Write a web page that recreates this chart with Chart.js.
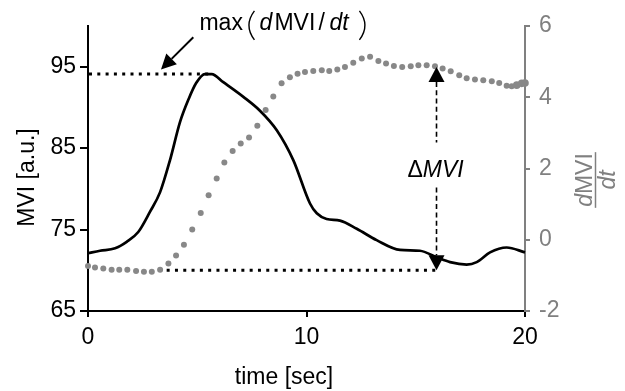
<!DOCTYPE html>
<html>
<head>
<meta charset="utf-8">
<script src="https://cdn.jsdelivr.net/npm/chart.js@4"></script>
<style>
  html, body { margin: 0; padding: 0; background: #fff; }
  #wrap { width: 625px; height: 391px; position: relative; }
</style>
</head>
<body>
<div id="wrap"><canvas id="c" width="625" height="391"></canvas></div>
<script>
// ---- data ----
const lineTime = [0, 0.55, 1.24, 1.77, 2.30, 2.84, 3.30, 3.75, 4.21, 4.60, 4.95, 5.35, 5.66, 6.19, 7.11, 7.87, 8.64, 9.40, 10.16, 10.47, 10.92, 11.53, 12.30, 13.21, 14.28, 15.19, 15.96, 16.57, 17.33, 17.79, 18.40, 19.16, 20];
const mviValues = [72.1, 72.4, 72.7, 73.5, 74.7, 77.2, 79.6, 83.5, 88.2, 91.0, 93.0, 94.1, 94.1, 93.1, 91.3, 89.6, 87.2, 83.5, 78.2, 77.0, 76.3, 76.1, 75.1, 73.7, 72.5, 72.4, 71.6, 71.0, 70.7, 71.0, 72.2, 72.8, 72.2];

const dotTime = [0, 0.32, 0.70, 1.08, 1.43, 1.80, 2.20, 2.56, 2.92, 3.30, 3.68, 4.03, 4.39, 4.77, 5.16, 5.52, 5.89, 6.24, 6.62, 6.99, 7.37, 7.75, 8.13, 8.48, 8.86, 9.24, 9.59, 9.93, 10.31, 10.70, 11.04, 11.41, 11.76, 12.14, 12.53, 12.91, 13.29, 13.64, 14.00, 14.38, 14.77, 15.12, 15.50, 15.88, 16.23, 16.60, 16.99, 17.33, 17.71, 18.09, 18.48, 18.82, 19.16, 19.39, 19.62, 19.85, 20.0];
const dmviValues = [-0.74, -0.78, -0.81, -0.84, -0.84, -0.84, -0.88, -0.90, -0.90, -0.84, -0.67, -0.44, -0.14, 0.29, 0.75, 1.25, 1.72, 2.17, 2.49, 2.70, 2.87, 3.20, 3.64, 4.02, 4.39, 4.56, 4.66, 4.71, 4.74, 4.76, 4.74, 4.78, 4.85, 4.97, 5.09, 5.14, 5.02, 4.95, 4.88, 4.85, 4.87, 4.90, 4.90, 4.87, 4.81, 4.73, 4.62, 4.53, 4.50, 4.48, 4.45, 4.40, 4.32, 4.31, 4.34, 4.39, 4.40];

const xTickValues = [0, 10, 20];
const leftTickValues = [65, 75, 85, 95];
const rightTickValues = [-2, 0, 2, 4, 6];

// annotation levels (data units)
const maxLevel = 94.1;      // left axis
const minLevel = 70.0;      // left axis
const maxEndTime = 5.66;
const minStartTime = 3.6;
const markTime = 15.95;
const markTopR = 4.85;      // right axis value of upper arrow tip

const FONT = "'Liberation Sans', Arial, sans-serif";
const GRAY = '#808080';
const DOT = '#888888';

const annot = {
  id: 'annot',
  afterDatasetsDraw(chart) {
    const ctx = chart.ctx;
    const sx = chart.scales.x, sy = chart.scales.y, sr = chart.scales.y2;
    const X = v => sx.getPixelForValue(v);
    const YL = v => sy.getPixelForValue(v);
    const YR = v => sr.getPixelForValue(v);
    ctx.save();

    // dotted horizontal lines
    ctx.strokeStyle = '#000';
    ctx.lineWidth = 3;
    ctx.lineCap = 'butt';
    ctx.setLineDash([3, 5.3]);
    ctx.beginPath();
    ctx.moveTo(X(0) + 1, YL(maxLevel));
    ctx.lineTo(X(maxEndTime), YL(maxLevel));
    ctx.stroke();
    ctx.beginPath();
    ctx.moveTo(X(minStartTime), YL(minLevel));
    ctx.lineTo(X(markTime) + 1, YL(minLevel));
    ctx.stroke();

    // vertical dashed arrow
    const mx = X(markTime);
    const topTip = YR(markTopR);
    const botTip = YL(minLevel);
    const textY = YL(82.5);
    ctx.setLineDash([5, 3.3]);
    ctx.lineWidth = 1.6;
    ctx.beginPath();
    ctx.moveTo(mx, topTip + 15);
    ctx.lineTo(mx, textY - 26);
    ctx.moveTo(mx, textY + 19);
    ctx.lineTo(mx, botTip - 15);
    ctx.stroke();
    ctx.setLineDash([]);
    ctx.fillStyle = '#000';
    ctx.beginPath();
    ctx.moveTo(mx, topTip); ctx.lineTo(mx - 8, topTip + 15); ctx.lineTo(mx + 8, topTip + 15); ctx.closePath();
    ctx.fill();
    ctx.beginPath();
    ctx.moveTo(mx, botTip); ctx.lineTo(mx - 8, botTip - 15); ctx.lineTo(mx + 8, botTip - 15); ctx.closePath();
    ctx.fill();

    // ΔMVI label
    ctx.textBaseline = 'alphabetic';
    ctx.textAlign = 'left';
    ctx.font = '23px ' + FONT;
    const wD = ctx.measureText('Δ').width;
    ctx.font = 'italic 23px ' + FONT;
    const wM = ctx.measureText('MVI').width;
    let tx = mx - 1 - (wD + wM) / 2;
    ctx.font = '23px ' + FONT;
    ctx.fillText('Δ', tx, textY + 8);
    ctx.font = 'italic 23px ' + FONT;
    ctx.fillText('MVI', tx + wD, textY + 8);

    // arrow to max
    const ax0 = X(4.82), ay0 = YL(98.62), ax1 = X(3.34), ay1 = YL(94.66);
    const ang = Math.atan2(ay1 - ay0, ax1 - ax0);
    const hl = 15, hw = 7.5;
    const bx = ax1 - hl * Math.cos(ang), by = ay1 - hl * Math.sin(ang);
    ctx.lineWidth = 2;
    ctx.beginPath(); ctx.moveTo(ax0, ay0); ctx.lineTo(bx, by); ctx.stroke();
    ctx.beginPath();
    ctx.moveTo(ax1, ay1);
    ctx.lineTo(bx + hw * Math.sin(ang), by - hw * Math.cos(ang));
    ctx.lineTo(bx - hw * Math.sin(ang), by + hw * Math.cos(ang));
    ctx.closePath(); ctx.fill();

    // max(dMVI/dt) label
    const ox = X(5.1), oy = YL(99.53);
    const parts = [
      ['max', '23px ', 0],
      ['d', 'italic 23px ', 60],
      ['MVI', '23px ', 75],
      ['/', '23px ', 119],
      ['dt', 'italic 23px ', 130]
    ];
    for (const [s, f, off] of parts) {
      ctx.font = f + FONT;
      ctx.fillText(s, ox + off, oy);
    }
    // tall thin parentheses
    ctx.lineWidth = 1.4;
    ctx.beginPath();
    ctx.moveTo(ox + 55, oy - 19);
    ctx.quadraticCurveTo(ox + 44, oy - 4.5, ox + 55, oy + 10);
    ctx.moveTo(ox + 160, oy - 19);
    ctx.quadraticCurveTo(ox + 171, oy - 4.5, ox + 160, oy + 10);
    ctx.stroke();

    ctx.restore();
  },
  afterDraw(chart) {
    const ctx = chart.ctx;
    const ca = chart.chartArea;
    ctx.save();
    ctx.fillStyle = '#000';
    ctx.font = '23px ' + FONT;
    // x title
    ctx.textAlign = 'center';
    ctx.textBaseline = 'alphabetic';
    ctx.fillText('time [sec]', 284, 384);
    // left title
    ctx.save();
    ctx.translate(34, (ca.top + ca.bottom) / 2 + 9);
    ctx.rotate(-Math.PI / 2);
    ctx.fillText('MVI [a.u.]', 0, 0);
    ctx.restore();
    // right title (fraction)
    ctx.save();
    ctx.fillStyle = GRAY;
    ctx.strokeStyle = GRAY;
    ctx.translate(595, 180);
    ctx.rotate(-Math.PI / 2);
    ctx.textAlign = 'left';
    ctx.font = 'italic 23px ' + FONT;
    const wd = ctx.measureText('d').width;
    ctx.font = '23px ' + FONT;
    const wmvi = ctx.measureText('MVI').width;
    const tot = wd + wmvi;
    ctx.font = 'italic 23px ' + FONT;
    ctx.fillText('d', -tot / 2, -3);
    ctx.font = '23px ' + FONT;
    ctx.fillText('MVI', -tot / 2 + wd, -3);
    ctx.lineWidth = 1.5;
    ctx.beginPath(); ctx.moveTo(-tot / 2 - 1, 0.5); ctx.lineTo(tot / 2 + 1, 0.5); ctx.stroke();
    ctx.font = 'italic 23px ' + FONT;
    ctx.textAlign = 'center';
    ctx.fillText('dt', 0, 19.5);
    ctx.restore();
    ctx.restore();
  }
};

new Chart(document.getElementById('c'), {
  type: 'line',
  data: {
    datasets: [
      {
        label: 'dMVI/dt',
        data: dotTime.map((t, i) => ({ x: t, y: dmviValues[i] })),
        yAxisID: 'y2',
        showLine: false,
        pointRadius: ctx => (ctx.dataIndex >= dotTime.length - 3 ? 3.8 : 3),
        pointBackgroundColor: DOT,
        pointBorderWidth: 0,
        borderColor: DOT,
        order: 0
      },
      {
        label: 'MVI',
        data: lineTime.map((t, i) => ({ x: t, y: mviValues[i] })),
        yAxisID: 'y',
        borderColor: '#000',
        borderWidth: 2.7,
        pointRadius: 0,
        cubicInterpolationMode: 'monotone',
        fill: false,
        order: 1
      }
    ]
  },
  options: {
    responsive: false,
    animation: false,
    devicePixelRatio: 1,
    clip: false,
    layout: { padding: { top: 26, left: 0, right: 0, bottom: 0 } },
    plugins: { legend: { display: false }, tooltip: { enabled: false } },
    scales: {
      x: {
        type: 'linear',
        position: 'bottom',
        min: 0, max: 20,
        afterBuildTicks: s => { s.ticks = xTickValues.map(v => ({ value: v })); },
        afterFit: s => { s.height = 80; },
        grid: { drawOnChartArea: false, drawTicks: true, tickLength: 6, color: '#000', lineWidth: 2 },
        border: { display: true, color: '#000', width: 2 },
        ticks: { color: '#000', font: { family: FONT, size: 23 }, padding: 7, maxRotation: 0, autoSkip: false }
      },
      y: {
        position: 'left',
        min: 65, max: 100,
        afterBuildTicks: s => { s.ticks = leftTickValues.map(v => ({ value: v })); },
        afterFit: s => { s.width = 88; },
        grid: { drawOnChartArea: false, drawTicks: true, tickLength: 8, color: '#000', lineWidth: 2 },
        border: { display: true, color: '#000', width: 2 },
        ticks: { color: '#000', font: { family: FONT, size: 23 }, padding: 4, autoSkip: false }
      },
      y2: {
        position: 'right',
        min: -2, max: 6,
        afterBuildTicks: s => { s.ticks = rightTickValues.map(v => ({ value: v })); },
        afterFit: s => { s.width = 100; },
        grid: { drawOnChartArea: false, drawTicks: true, tickLength: 5, color: GRAY, lineWidth: 2 },
        border: { display: true, color: GRAY, width: 2 },
        ticks: { color: GRAY, font: { family: FONT, size: 23 }, padding: 9, autoSkip: false }
      }
    }
  },
  plugins: [annot]
});
</script>
</body>
</html>
